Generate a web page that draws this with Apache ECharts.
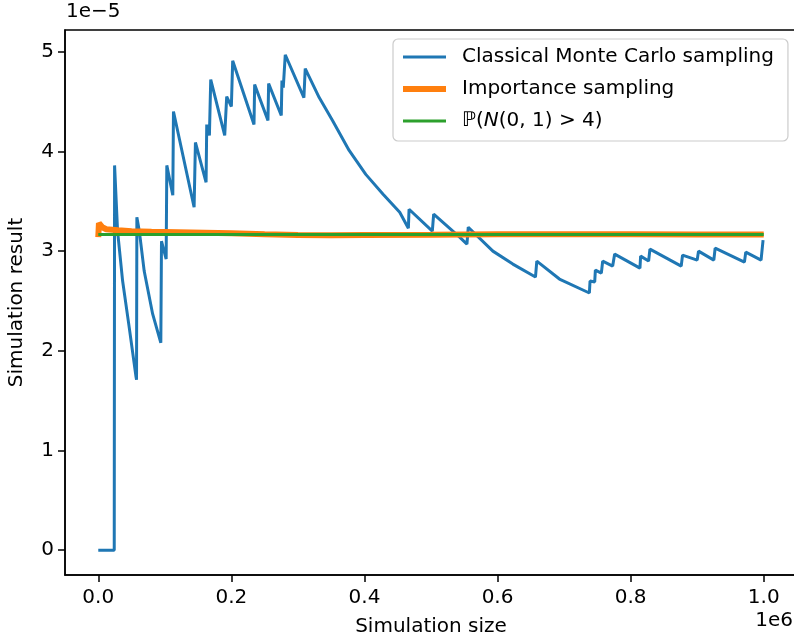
<!DOCTYPE html>
<html lang="en">
<head>
    <meta charset="UTF-8">
    <title>Simulation result</title>
    <script src="https://cdn.jsdelivr.net/npm/echarts@6/dist/echarts.min.js"></script>
    <style>
        html, body { margin: 0; padding: 0; background: #fff; }
        #main { width: 794px; height: 638px; }
    </style>
</head>
<body>

<div id="main"></div>

<script>
    // x in units of 1e6 samples, y in units of 1e-5
    const mcX = [0.0, 0.024, 0.0245, 0.029, 0.0366, 0.0466, 0.0567, 0.0575, 0.058, 0.0617,
        0.069, 0.0817, 0.094, 0.095, 0.102, 0.103, 0.112, 0.113, 0.144, 0.146,
        0.162, 0.163, 0.167, 0.169, 0.190, 0.193, 0.200, 0.202, 0.234, 0.235,
        0.255, 0.256, 0.275, 0.276, 0.278, 0.281, 0.309, 0.311, 0.332, 0.352,
        0.377, 0.402, 0.428, 0.453, 0.466, 0.467, 0.502, 0.504, 0.543, 0.554,
        0.556, 0.593, 0.623, 0.657, 0.659, 0.693, 0.738, 0.739, 0.746, 0.747,
        0.756, 0.758, 0.773, 0.776, 0.814, 0.815, 0.827, 0.829, 0.876, 0.878,
        0.900, 0.902, 0.925, 0.927, 0.971, 0.973, 0.996, 0.999];
    const mcY = [0.0, 0.0, 3.86, 3.20, 2.70, 2.23, 1.74, 1.71, 3.34, 3.20,
        2.80, 2.37, 2.08, 3.10, 2.92, 3.86, 3.56, 4.40, 3.44, 4.09,
        3.69, 4.27, 4.16, 4.72, 4.16, 4.55, 4.45, 4.91, 4.27, 4.67,
        4.31, 4.68, 4.36, 4.71, 4.64, 4.97, 4.54, 4.83, 4.54, 4.31,
        4.01, 3.77, 3.57, 3.39, 3.23, 3.42, 3.20, 3.37, 3.14, 3.07,
        3.24, 3.00, 2.87, 2.74, 2.90, 2.72, 2.58, 2.70, 2.69, 2.81,
        2.78, 2.90, 2.85, 2.97, 2.83, 2.95, 2.90, 3.02, 2.85, 2.96,
        2.91, 3.00, 2.91, 3.03, 2.89, 2.99, 2.91, 3.11];

    const isX = [0.0, 0.001, 0.003, 0.006, 0.012, 0.03, 0.05, 0.08, 0.12, 0.2,
        0.25, 0.3, 0.35, 0.4, 0.5, 0.6, 0.7, 0.8, 0.9, 1.0];
    const isY = [3.14, 3.28, 3.27, 3.24, 3.22, 3.21, 3.20, 3.195, 3.19, 3.18,
        3.17, 3.163, 3.16, 3.162, 3.165, 3.17, 3.17, 3.17, 3.168, 3.168];

    const exactX = [0.0, 1.0];
    const exactY = [3.167, 3.167];

    const xTicks = [0.0, 0.2, 0.4, 0.6, 0.8, 1.0];
    const yTicks = [0, 1, 2, 3, 4, 5];

    const names = ['Classical Monte Carlo sampling', 'Importance sampling', 'ℙ(N(0, 1) > 4)'];
    const colors = ['#1f77b4', '#ff7f0e', '#2ca02c'];
    const widths = [3, 6, 3];

    const font = 'DejaVu Sans';
    const pair = (xs, ys) => xs.map((x, i) => [x, ys[i]]);

    const chart = echarts.init(document.getElementById('main'));

    const option = {
        animation: false,
        textStyle: { fontFamily: font },
        grid: {
            left: 65, top: 30, width: 732, height: 545,
            outerBoundsMode: 'none', containLabel: false,
            show: true, borderColor: '#000', borderWidth: 1.5
        },
        legend: {
            orient: 'vertical',
            left: 393, top: 39,
            padding: [8, 14, 10, 7],
            itemWidth: 43, itemHeight: 14, itemGap: 12,
            backgroundColor: 'rgba(255,255,255,0.8)',
            borderColor: '#cccccc', borderWidth: 1.2, borderRadius: 5,
            itemStyle: { opacity: 0 },
            textStyle: {
                fontFamily: font, fontSize: 20, color: '#000', padding: [0, 0, 0, 11],
                rich: {
                    r: { fontFamily: font, fontSize: 20, color: '#000' },
                    i: { fontFamily: font, fontSize: 20, color: '#000', fontStyle: 'italic' }
                }
            },
            formatter: name => name === names[2] ? '{r|ℙ(}{i|N}{r|(0, 1) > 4)}' : name,
            data: names.map((n, i) => ({ name: n, lineStyle: { color: colors[i], width: widths[i] } }))
        },
        xAxis: {
            type: 'value', min: -0.05, max: 1.05,
            name: 'Simulation size', nameLocation: 'middle', nameGap: 42,
            nameTextStyle: { fontFamily: font, fontSize: 20, color: '#000' },
            axisLine: { show: true, onZero: false, lineStyle: { color: '#000', width: 1.5 } },
            axisTick: { show: true, customValues: xTicks, length: 7, lineStyle: { color: '#000', width: 1.5 } },
            axisLabel: {
                customValues: xTicks, margin: 13, fontSize: 20, color: '#000', fontFamily: font,
                formatter: v => v.toFixed(1)
            },
            splitLine: { show: false }
        },
        yAxis: {
            type: 'value', min: -0.2485, max: 5.218,
            name: 'Simulation result', nameLocation: 'middle', nameGap: 38,
            nameTextStyle: { fontFamily: font, fontSize: 20, color: '#000' },
            axisLine: { show: true, onZero: false, lineStyle: { color: '#000', width: 1.5 } },
            axisTick: { show: true, customValues: yTicks, length: 7, lineStyle: { color: '#000', width: 1.5 } },
            axisLabel: {
                customValues: yTicks, margin: 11, fontSize: 20, color: '#000', fontFamily: font
            },
            splitLine: { show: false }
        },
        graphic: [
            { type: 'text', left: 66, top: 2, style: { text: '1e−5', font: '20px "DejaVu Sans"', fill: '#000' } },
            { type: 'text', right: 1, top: 611, style: { text: '1e6', font: '20px "DejaVu Sans"', fill: '#000' } }
        ],
        series: names.map((n, i) => ({
            name: n, type: 'line',
            data: [pair(mcX, mcY), pair(isX, isY), pair(exactX, exactY)][i],
            symbol: 'none', color: colors[i],
            lineStyle: { color: colors[i], width: widths[i] }
        }))
    };

    chart.setOption(option);
</script>

</body>
</html>
